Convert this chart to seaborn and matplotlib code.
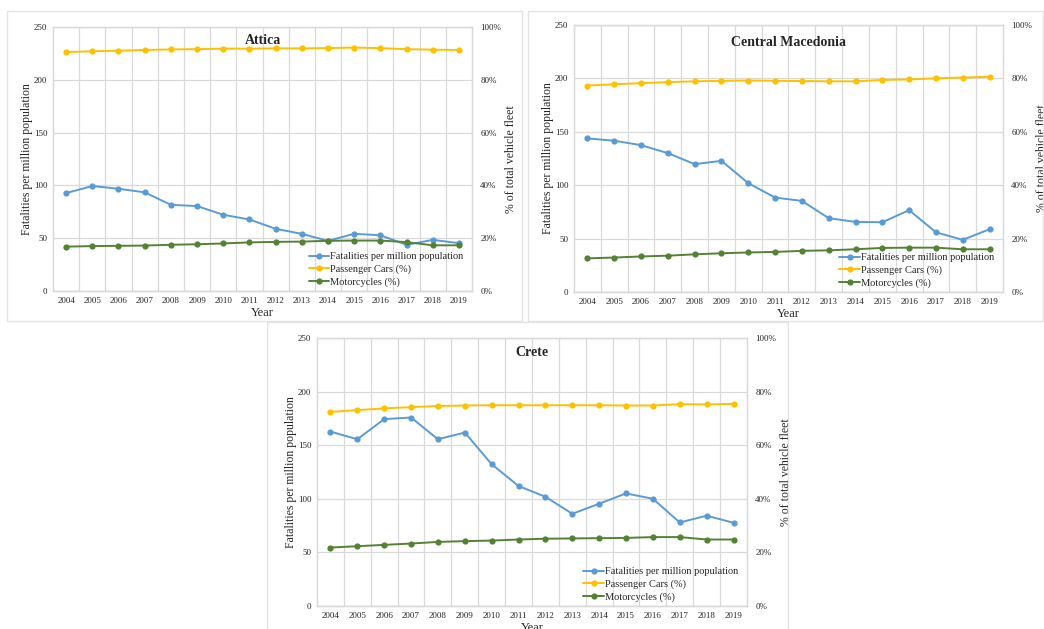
import matplotlib
matplotlib.use("Agg")
import matplotlib.pyplot as plt
from matplotlib.patches import Rectangle
from matplotlib.ticker import PercentFormatter, MultipleLocator
import seaborn as sns
import pandas as pd

years = list(range(2004, 2020))

attica_fatal = [92.7, 99.4, 96.8, 93.4, 81.6, 80.4, 72.2, 67.7, 58.9, 54.1, 47.5, 54.1, 52.8, 43.7, 48.4, 45.3]
attica_cars = [90.5, 90.8, 91.0, 91.3, 91.5, 91.6, 91.8, 91.8, 91.9, 91.9, 92.0, 92.2, 92.0, 91.6, 91.4, 91.3]
attica_moto = [16.8, 17.0, 17.1, 17.2, 17.5, 17.7, 18.0, 18.4, 18.6, 18.7, 19.0, 19.1, 19.1, 18.5, 17.3, 17.3]

macedonia_fatal = [143.8, 141.6, 137.5, 130.0, 119.7, 122.8, 101.9, 88.4, 85.3, 69.1, 65.6, 65.3, 76.6, 55.9, 48.8, 58.8]
macedonia_cars = [77.3, 77.8, 78.2, 78.6, 78.9, 79.1, 79.2, 79.1, 79.0, 78.9, 78.9, 79.4, 79.6, 80.0, 80.3, 80.6]
macedonia_moto = [12.6, 12.9, 13.3, 13.6, 14.1, 14.5, 14.8, 15.0, 15.4, 15.6, 16.0, 16.5, 16.6, 16.6, 16.0, 16.0]

crete_fatal = [162.7, 155.5, 174.3, 175.8, 155.5, 161.8, 132.2, 111.9, 101.9, 86.0, 95.4, 105.0, 100.0, 77.9, 84.2, 77.6]
crete_cars = [72.4, 73.1, 73.7, 74.2, 74.6, 74.8, 74.9, 74.9, 74.9, 74.9, 74.9, 74.8, 74.8, 75.3, 75.2, 75.4]
crete_moto = [21.8, 22.3, 22.8, 23.3, 23.9, 24.2, 24.4, 24.8, 25.1, 25.2, 25.3, 25.4, 25.7, 25.7, 24.8, 24.8]

sns.set_style("white")
plt.rcParams['font.family'] = ['Liberation Serif', 'DejaVu Serif']

BLUE = "#5B9BD5"
ORANGE = "#FFC000"
GREEN = "#548235"
GRID = "#d9d9d9"

fig = plt.figure(figsize=(10.44, 6.29), dpi=100)

# panel frames (figure pixel coords -> fractions)
W, H = 1044, 629
for x0, y0, x1, y1 in [(7, 11, 522, 321), (528, 11, 1043, 321), (267, 322, 788, 640)]:
    fig.patches.append(Rectangle((x0 / W, 1 - y1 / H), (x1 - x0) / W, (y1 - y0) / H,
                                 transform=fig.transFigure, fill=False,
                                 edgecolor="#e3e3e3", linewidth=1.0))


def panel(rect, title, title_y, fatal, cars, moto):
    df = pd.DataFrame({"Year": years, "fatal": fatal,
                       "cars": [c / 100 for c in cars],
                       "moto": [m / 100 for m in moto]})
    ax = fig.add_axes(rect)
    ax2 = ax.twinx()
    sns.lineplot(data=df, x="Year", y="fatal", ax=ax, color=BLUE, marker="o",
                 markersize=4.5, markeredgewidth=0, linewidth=1.4,
                 label="Fatalities per million population", legend=False)
    sns.lineplot(data=df, x="Year", y="cars", ax=ax2, color=ORANGE, marker="o",
                 markersize=4.5, markeredgewidth=0, linewidth=1.4,
                 label="Passenger Cars (%)", legend=False)
    sns.lineplot(data=df, x="Year", y="moto", ax=ax2, color=GREEN, marker="o",
                 markersize=4.5, markeredgewidth=0, linewidth=1.4,
                 label="Motorcycles (%)", legend=False)

    ax.set_xlim(years[0] - 0.5, years[-1] + 0.5)
    ax.set_ylim(0, 250)
    ax.yaxis.set_major_locator(MultipleLocator(50))
    ax2.set_ylim(0, 1)
    ax2.yaxis.set_major_locator(MultipleLocator(0.2))
    ax2.yaxis.set_major_formatter(PercentFormatter(1.0, decimals=0))

    ax.set_xticks(years)
    ax.set_xticklabels([str(y) for y in years])
    ax.set_xticks([y + 0.5 for y in years[:-1]], minor=True)
    ax.grid(True, which="major", axis="y", color=GRID, linewidth=0.9)
    ax.grid(True, which="minor", axis="x", color=GRID, linewidth=0.9)
    ax.grid(False, which="major", axis="x")
    ax.tick_params(axis="both", which="both", length=0, labelsize=6.5, pad=4)
    ax2.tick_params(axis="both", which="both", length=0, labelsize=6.5, pad=6)

    for a in (ax, ax2):
        for s in a.spines.values():
            s.set_color(GRID)
            s.set_linewidth(0.9)
    ax.spines["bottom"].set_color("#bfbfbf")

    ax.set_xlabel("Year", fontsize=9, labelpad=2)
    ax.set_ylabel("Fatalities per million population", fontsize=8.5, labelpad=1)
    ax2.set_ylabel("% of total vehicle fleet", fontsize=8.5, labelpad=3)
    ax2.text(0.5, title_y, title, transform=ax2.transAxes, ha="center", va="center",
             fontsize=10, fontweight="bold", zorder=10)

    h1, l1 = ax.get_legend_handles_labels()
    h2, l2 = ax2.get_legend_handles_labels()
    ax2.legend(h1 + h2, l1 + l2, loc="lower right", frameon=False, fontsize=7.5,
               handlelength=2.0, handletextpad=0.1, labelspacing=0.3,
               borderaxespad=0.0, bbox_to_anchor=(0.99, 0.0))


panel([0.0508, 0.5374, 0.4013, 0.4197], "Attica", 0.947, attica_fatal, attica_cars, attica_moto)
panel([0.5498, 0.5358, 0.4109, 0.4245], "Central Macedonia", 0.933, macedonia_fatal, macedonia_cars, macedonia_moto)
panel([0.3036, 0.0366, 0.4119, 0.4261], "Crete", 0.944, crete_fatal, crete_cars, crete_moto)

fig.savefig("out.png", dpi=100)
